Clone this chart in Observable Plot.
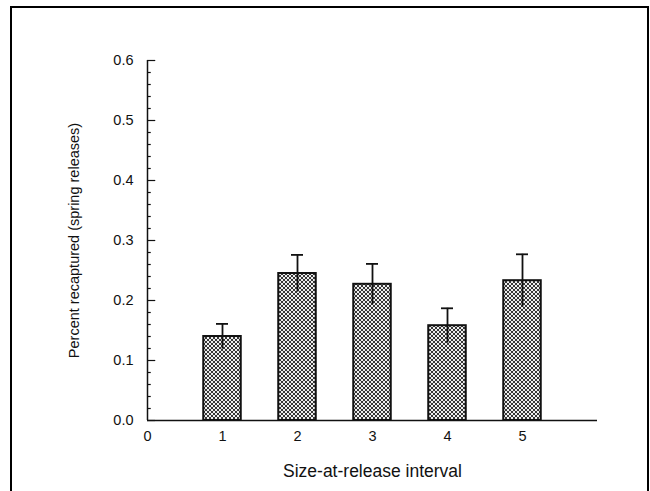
<!DOCTYPE html>
<html>
<head>
<meta charset="utf-8">
<script src="https://cdn.jsdelivr.net/npm/d3@7"></script>
<script src="https://cdn.jsdelivr.net/npm/@observablehq/plot@0.6"></script>
<style>
  html, body { margin: 0; padding: 0; background: #fff; }
  #chart { width: 650px; height: 491px; }
</style>
</head>
<body>
<div id="chart"></div>
<script>
const intervals = [1, 2, 3, 4, 5];
const percent = [0.140, 0.245, 0.227, 0.158, 0.233];
const stdErr = [0.021, 0.031, 0.034, 0.029, 0.044];
const yTicks = [0, 0.1, 0.2, 0.3, 0.4, 0.5, 0.6];
const yMinorTicks = d3.range(0, 61, 2).map(d => d / 100).filter(d => Math.round(d * 100) % 10 !== 0);
const xTicks = [0, 1, 2, 3, 4, 5];

const data = intervals.map((k, i) => ({k, p: percent[i], e: stdErr[i]}));

const chart = Plot.plot({
  width: 650,
  height: 491,
  marginLeft: 147,
  marginRight: 53,
  marginTop: 60,
  marginBottom: 71,
  style: {fontFamily: "'Liberation Sans', Arial, sans-serif", fontSize: "14px", color: "#111", background: "#fff"},
  x: {domain: [0, 6]},
  y: {domain: [0, 0.6]},
  marks: [
    Plot.rectY(data, {x1: d => d.k - 0.25, x2: d => d.k + 0.25, y: "p", fill: "url(#xhatch)", stroke: "#111", strokeWidth: 2}),
    Plot.ruleX(data, {x: "k", y1: d => d.p - d.e, y2: d => d.p + d.e, stroke: "#111", strokeWidth: 1.8}),
    Plot.ruleY(data, {x1: d => d.k - 0.08, x2: d => d.k + 0.08, y: d => d.p + d.e, stroke: "#111", strokeWidth: 1.8}),
    Plot.ruleX([0], {y1: 0, y2: 0.6, stroke: "#111", strokeWidth: 1.5}),
    Plot.ruleY([0], {x1: 0, x2: 6, stroke: "#111", strokeWidth: 1.5}),
    Plot.ruleY(yTicks, {x1: 0, x2: 0.11, y: d => d, stroke: "#111", strokeWidth: 1.2}),
    Plot.ruleY(yMinorTicks, {x1: 0, x2: 0.05, y: d => d, stroke: "#111", strokeWidth: 1.2}),
    Plot.axisY({ticks: yTicks, tickFormat: d3.format(".1f"), tickSize: 0, tickPadding: 14, fontSize: 14.5,
      label: "Percent recaptured (spring releases)", labelAnchor: "center", labelArrow: "none", labelOffset: 79}),
    Plot.axisX({ticks: xTicks, tickFormat: d3.format("d"), tickSize: 0, tickPadding: 10, fontSize: 14.5, label: null}),
    Plot.axisX({ticks: [], tickSize: 0, fontSize: 17.5,
      label: "Size-at-release interval", labelAnchor: "center", labelArrow: "none", labelOffset: 56})
  ]
});

const svg = d3.select(chart);
const defs = svg.insert("defs", ":first-child");
const pat = defs.append("pattern").attr("id", "xhatch").attr("patternUnits", "userSpaceOnUse")
  .attr("width", 4).attr("height", 4);
pat.append("rect").attr("width", 4).attr("height", 4).attr("fill", "#eeeeee");
pat.append("path").attr("d", "M0,0L4,4M-1,3L1,5M3,-1L5,1").attr("stroke", "#222").attr("stroke-width", 0.9);
pat.append("path").attr("d", "M0,4L4,0M-1,1L1,-1M3,5L5,3").attr("stroke", "#222").attr("stroke-width", 0.9);

svg.append("rect").attr("x", 11).attr("y", 7).attr("width", 637).attr("height", 500)
  .attr("fill", "none").attr("stroke", "#000").attr("stroke-width", 2);

document.getElementById("chart").appendChild(chart);
</script>
</body>
</html>
